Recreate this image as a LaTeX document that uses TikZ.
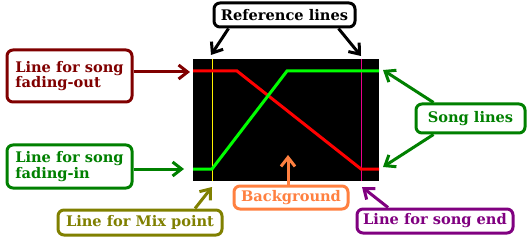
\documentclass[tikz,border=0pt]{standalone}
\usepackage{fontspec}
\setmainfont{DejaVu Serif}
\usepackage{xcolor}
\usepackage{tikz}
\usetikzlibrary{arrows.meta,positioning,calc}

\definecolor{darkred}{HTML}{800000}
\definecolor{darkgreen}{HTML}{008000}
\definecolor{olivetone}{HTML}{808000}
\definecolor{coraltone}{HTML}{FF8040}
\definecolor{purpletone}{HTML}{800080}

\tikzset{
  callout/.style={draw=#1,text=#1,line width=3pt,rounded corners=6pt,fill=white,
    inner sep=0pt,align=left,font=\bfseries\fontsize{14.6}{15.5}\selectfont},
  pointer/.style={draw=#1,line width=3pt,-{Straight Barb[length=9pt,width=14pt]}},
}

\begin{document}
\begin{tikzpicture}[x=1pt,y=-1pt]
\useasboundingbox (0,0) rectangle (529,240);

% background and reference lines
\fill[black] (193,59) rectangle (379,181);
\draw[yellow,line width=1pt] (212,59) -- (212,181);
\draw[magenta,line width=1pt] (361,59) -- (361,181);

% song lines
\draw[red,line width=3pt] (193,71) -- (237,71) -- (361,169) -- (379,169);
\draw[green,line width=3pt] (193,169) -- (212,169) -- (287,71) -- (379,71);

% callouts
\node[callout=darkred,minimum width=125,minimum height=52] (fadeout) at (69.5,76)
  {Line for song\\fading-out};
\node[callout=darkgreen,minimum width=125,minimum height=43] (fadein) at (69.5,166.5)
  {Line for song\\fading-in};
\node[callout=black,minimum width=141,minimum height=24] (reflines) at (284.5,15)
  {Reference lines};
\node[callout=olivetone,minimum width=164,minimum height=25] (mixpoint) at (140,222.5)
  {Line for Mix point};
\node[callout=coraltone,minimum width=114,minimum height=23] (backgr) at (291,197.5)
  {Background};
\node[callout=purpletone,minimum width=156,minimum height=24] (songend) at (435,221)
  {Line for song end};
\node[callout=darkgreen,minimum width=109,minimum height=29] (songlines) at (470.5,118.5)
  {Song lines};

% arrow targets
\coordinate (outtip) at (190,72);
\coordinate (intip) at (184,169);
\coordinate (mixtip) at (212,187);
\coordinate (bgtip) at (288,155);
\coordinate (endtip) at (362,187);
\coordinate (reftipa) at (211,55);
\coordinate (reftipb) at (361,56);
\coordinate (songtipa) at (383,70);
\coordinate (songtipb) at (383,167);

% arrows
\draw[pointer=darkred] ([yshift=4]fadeout.east) -- (outtip);
\draw[pointer=darkgreen] ([yshift=-2.5]fadein.east) -- (intip);
\draw[pointer=olivetone] ([xshift=55]mixpoint.north) -- (mixtip);
\draw[pointer=coraltone] ([xshift=-3]backgr.north) -- (bgtip);
\draw[pointer=purpletone] ([xshift=-47]songend.north) -- (endtip);
\draw[pointer=black] ([xshift=16]reflines.south west) -- (reftipa);
\draw[pointer=black] ([xshift=-18]reflines.south east) -- (reftipb);
\draw[pointer=darkgreen] ([xshift=19]songlines.north west) -- (songtipa);
\draw[pointer=darkgreen] ([xshift=19]songlines.south west) -- (songtipb);
\end{tikzpicture}
\end{document}
